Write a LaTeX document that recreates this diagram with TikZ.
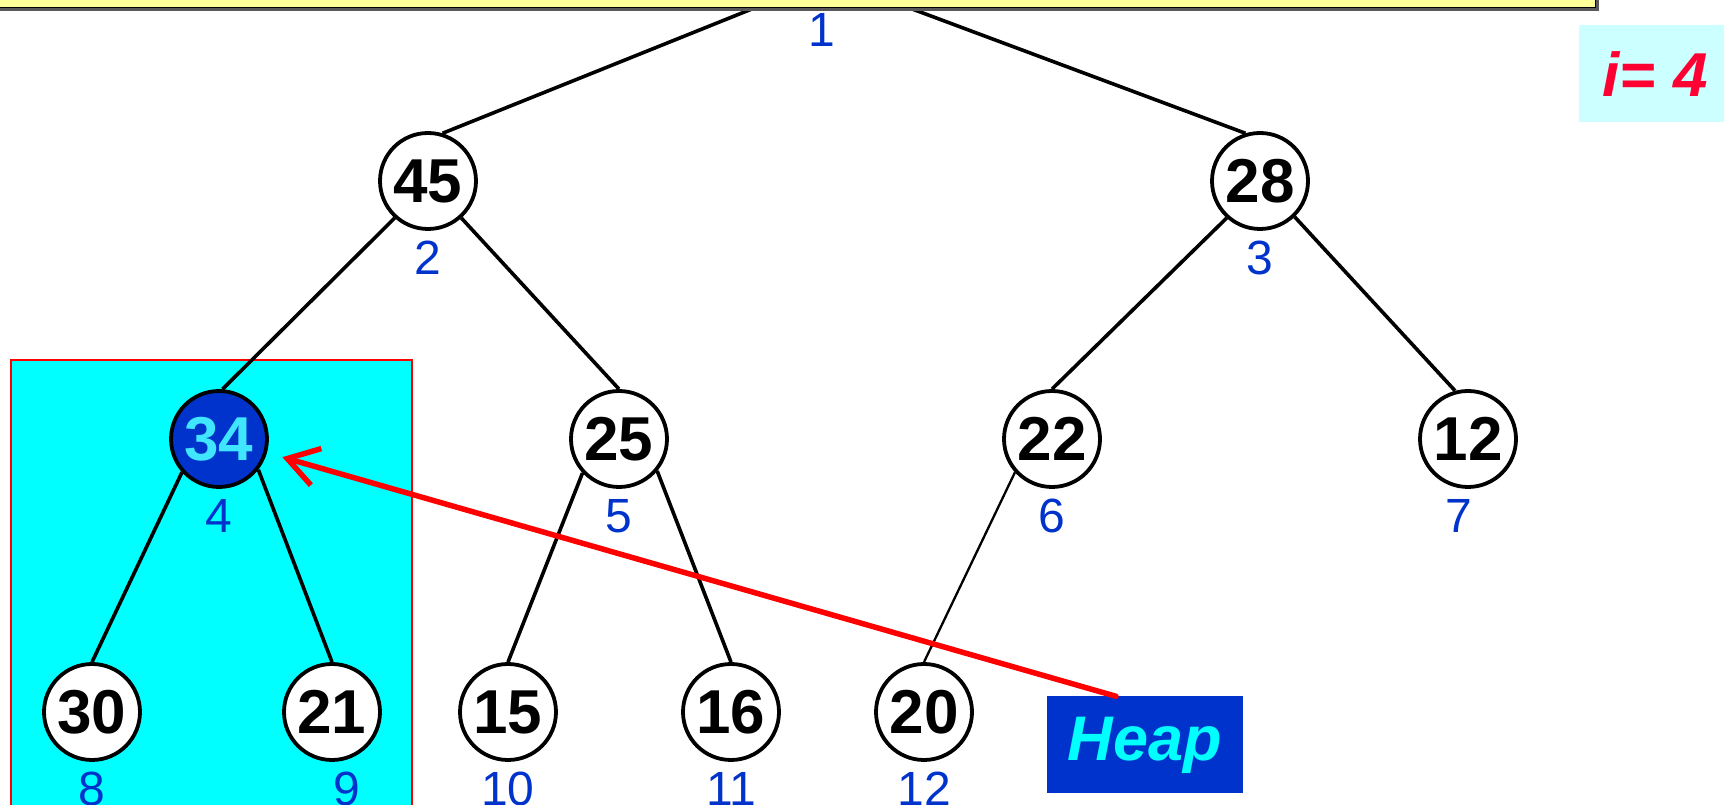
\documentclass[tikz,border=0pt]{standalone}
\usepackage{fontspec}
\setmainfont{Liberation Sans}
\usepackage{tikz}
\usetikzlibrary{positioning,arrows.meta}
\definecolor{idxblue}{RGB}{0,51,204}
\definecolor{notecyan}{RGB}{204,255,255}
\definecolor{noteyellow}{RGB}{255,255,153}
\definecolor{boxcyan}{RGB}{0,255,255}
\definecolor{keycyan}{RGB}{64,230,255}
\definecolor{ired}{RGB}{255,0,51}

\begin{document}
\begin{tikzpicture}[
    x=1pt, y=1pt,
    node distance=10pt,
    key/.style={
        circle,
        draw,
        line width=3.8pt,
        fill=white,
        minimum size=96pt,
        inner sep=0pt,
        font=\fontsize{62}{62}\selectfont\bfseries
    },
    index/.style={inner sep=0pt, text=idxblue, font=\fontsize{48}{48}\selectfont},
    link/.style={line width=3.6pt},
    pointer/.style={-{Straight Barb[length=30pt,width=38pt]}, line width=5.5pt, red, line cap=round}
]
\useasboundingbox (0,0) rectangle (1724,805);
\clip (0,0) rectangle (1724,805);

\filldraw[fill=boxcyan, draw=red, line width=2.2pt] (11,-10) rectangle (412,445);

\coordinate (root) at (829,827);
\node[key] (h2) at (428,624) {45};
\node[key] (h3) at (1260,624) {28};
\node[key, fill=idxblue, text=keycyan] (h4) at (219,366) {34};
\node[key] (h5) at (619,366) {25};
\node[key] (h6) at (1052,366) {22};
\node[key] (h7) at (1468,366) {12};
\node[key] (h8) at (92,93) {30};
\node[key] (h9) at (332,93) {21};
\node[key] (h10) at (508,93) {15};
\node[key] (h11) at (731,93) {16};
\node[key] (h12) at (924,93) {20};

\draw[link] (root) -- (h2.73);
\draw[link] (root) -- (h3.107);
\draw[link] (h2.228) -- (h4.86);
\draw[link] (h2.312) -- (h5.north);
\draw[link] (h3.228) -- (h6.north);
\draw[link] (h3.314) -- (h7.105);
\draw[link] (h4.222) -- (h8.north);
\draw[link] (h4.322) -- (h9.north);
\draw[link] (h5.223) -- (h10.north);
\draw[link] (h5.320) -- (h11.north);
\draw[line width=2.3pt] (h6.222) -- (h12.north);

\node[index] (idx1) at (822,775) {1};
\node[index, below=of h2] (idx2) {2};
\node[index, below=of h3] (idx3) {3};
\node[index, below=of h4] (idx4) {4};
\node[index, below=of h5] (idx5) {5};
\node[index, below=of h6] (idx6) {6};
\node[index, below=of h7, xshift=-9pt] (idx7) {7};
\node[index, below=of h8] (idx8) {8};
\node[index, below=of h9, xshift=15pt] (idx9) {9};
\node[index, below=of h10] (idx10) {10};
\node[index, below=of h11] (idx11) {11};
\node[index, below=of h12] (idx12) {12};

\node[fill=idxblue, text=boxcyan, minimum width=196pt, minimum height=97pt,
      font=\fontsize{63}{63}\selectfont\bfseries\itshape] (heap) at (1145,60) {Heap};
\draw[pointer, shorten >=16pt] ([xshift=-29pt]heap.north) -- (h4);

\fill[black!65] (-10,794) rectangle (1599,830);
\filldraw[fill=noteyellow, draw=black, line width=1pt] (-10,797) rectangle (1595,830);

\node[fill=notecyan, text=ired, minimum width=152pt, minimum height=97pt,
      font=\fontsize{62}{62}\selectfont\bfseries\itshape] (ivar) at (1655,731) {i= 4};

\end{tikzpicture}
\end{document}
